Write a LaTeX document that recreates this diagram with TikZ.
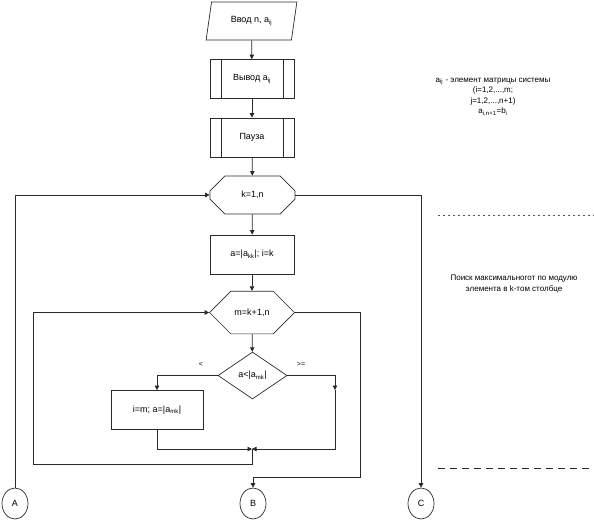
\documentclass[tikz,border=0pt]{standalone}
\usepackage{fontspec}
\setmainfont{Liberation Sans}
\usepackage{xcolor}
\definecolor{flowInk}{HTML}{2A2A2A}
\definecolor{flowMuted}{HTML}{555555}
\usetikzlibrary{arrows.meta,positioning,shapes.geometric,shapes.misc,calc}
\tikzset{
  >={Triangle[length=4.5pt,width=4.5pt]},
  every picture/.append style={font=\fontsize{9}{11}\selectfont},
  block/.style={rectangle,draw=flowInk,line width=0.7pt,minimum width=84pt,minimum height=39pt,inner sep=2pt,align=center},
  subproc/.style={block,path picture={
      \draw[flowInk,line width=0.7pt] ([xshift=11pt]path picture bounding box.north west) -- ([xshift=11pt]path picture bounding box.south west);
      \draw[flowInk,line width=0.7pt] ([xshift=-11pt]path picture bounding box.north east) -- ([xshift=-11pt]path picture bounding box.south east);}},
  ioblock/.style={trapezium,trapezium left angle=72,trapezium right angle=108,trapezium stretches=true,draw=flowInk,line width=0.7pt,minimum width=91pt,minimum height=38pt,inner sep=0pt},
  loopblock/.style={chamfered rectangle,chamfered rectangle xsep=17pt,chamfered rectangle ysep=19pt,draw=flowInk,line width=0.7pt,minimum width=85pt,minimum height=38pt,inner sep=0pt},
  decision/.style={diamond,aspect=1.47,draw=flowInk,line width=0.7pt,minimum width=69pt,minimum height=47pt,inner sep=0pt},
  terminal/.style={ellipse,draw=flowInk,line width=0.7pt,minimum width=26pt,minimum height=31pt,inner sep=0pt},
  flow/.style={->,draw=flowInk,line width=0.7pt},
  note/.style={font=\fontsize{8}{10.6}\selectfont,align=center},
  branchlabel/.style={font=\fontsize{7}{8}\selectfont},
}
\begin{document}
\begin{tikzpicture}[x=1pt,y=-1pt]
  \useasboundingbox (0,0) rectangle (594,522);

  \node[ioblock] (input) at (251.5,21) {Ввод n, a\textsubscript{ij}};
  \node[subproc] (output) at (252,79) {Вывод a\textsubscript{ij}};
  \node[subproc] (pause) at (252,137.5) {Пауза};
  \node[loopblock] (kloop) at (252.5,195) {k=1,n};
  \node[block] (init) at (252,254.5) {a=|a\textsubscript{kk}|; i=k};
  \node[loopblock] (mloop) at (252,312.5) {m=k+1,n};
  \node[decision] (cmp) at (252.5,375.5) {a<|a\textsubscript{mk}|};
  \node[block, minimum width=92pt] (swap) at (157,410) {i=m; a=|a\textsubscript{mk}|};

  \node[terminal] (A) at (15,503.5) {A};
  \node[terminal] (B) at (253,503.5) {B};
  \node[terminal] (C) at (421,503.5) {C};

  \node[branchlabel] (lesslbl) at (201,364) {<};
  \node[branchlabel] (geqlbl) at (301,364) {>=};

  \node[note] (matrixnote) at (493,97) {a\textsubscript{ij} - элемент матрицы системы\\(i=1,2,...,m;\\j=1,2,...,n+1)\\a\textsubscript{i,n+1}=b\textsubscript{i}};
  \node[note] (searchnote) at (514,284) {Поиск максимальногот по модулю\\элемента в k-том столбце};

  \coordinate (rtop) at (335,390);
  \coordinate (join) at (252,449);
  \coordinate (back) at (33,464);
  \coordinate (mexit) at (360,477);

  \draw[flow] (input) -- (output);
  \draw[flow] (output) -- (pause);
  \draw[flow] (pause) -- (kloop);
  \draw[flow] (kloop) -- (init);
  \draw[flow] (init) -- (mloop);
  \draw[flow] (mloop) -- (cmp);
  \draw[flow] (cmp.west) -| (swap.north);
  \draw[flow] (cmp.east) -| (rtop);
  \draw[flow] (rtop) |- (join);
  \draw[flow] (swap.south) |- (join);
  \draw[flow] (join) |- (back) |- (mloop.west);
  \draw[flow] (mloop.east) -| (mexit) -| (B.north);
  \draw[flow] (kloop.east) -| (C.north);
  \draw[flow] (A.north) |- (kloop.west);

  \draw[flowMuted, line width=0.6pt, dash pattern=on 2pt off 3pt] (438,215) -- (594,215);
  \draw[flowInk, line width=0.7pt, dash pattern=on 7pt off 5pt] (438,468) -- (594,468);
\end{tikzpicture}
\end{document}
